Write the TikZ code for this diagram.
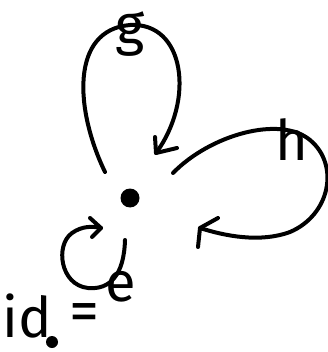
\documentclass[tikz,border=0pt]{standalone}
\usepackage{fontspec}
\setmainfont{Fira Sans}
\usetikzlibrary{calc}
\begin{document}
\begin{tikzpicture}[x=1pt,y=-1pt,
  stroke/.style={line width=4pt,line cap=round,line join=round},
  lbl/.style={inner sep=0pt,font=\fontsize{56}{56}\selectfont}]
\useasboundingbox (0,0) rectangle (327,352);
% central point
\node[circle,fill,inner sep=0pt,minimum size=19pt] (c) at (130,198) {};
% small point under id
\node[circle,fill,inner sep=0pt,minimum size=12pt] (p) at (52,342) {};
% loop ends
\coordinate (gs) at (105,172);
\coordinate (gt) at (156,153);
\coordinate (hs) at (173,173);
\coordinate (ht) at (200,228);
\coordinate (es) at (125,240);
\coordinate (et) at (101,228);
% g loop
\draw[stroke] (gs) .. controls (75,110) and (70,30) .. (130,25)
  .. controls (185,22) and (195,100) .. (gt);
\draw[stroke] ($(gt)+(-1,-16)$) -- (gt) -- ($(gt)+(21,-5)$);
% h loop
\draw[stroke] (hs) .. controls (210,135) and (280,115) .. (310,140)
  .. controls (340,165) and (330,215) .. (290,232)
  .. controls (260,243) and (225,236) .. (ht);
\draw[stroke] ($(ht)+(18,-10)$) -- (ht) -- ($(ht)+(-2,19)$);
% e loop
\draw[stroke] (es) .. controls (124,275) and (110,290) .. (88,288)
  .. controls (60,285) and (55,245) .. (72,233)
  .. controls (82,226) and (92,226) .. (et);
\draw[stroke] ($(et)+(-11,-10)$) -- (et) -- ($(et)+(-9,9)$);
% labels
\node[lbl] (g) at (130,34) {g};
\node[lbl] (h) at (292,140) {h};
\node[lbl] (e) at (121,287) {e};
\node[lbl] (id) at (27,316) {id};
\node[lbl,font=\fontsize{60}{60}\selectfont] (eq) at (84,318) {=};
\end{tikzpicture}
\end{document}
